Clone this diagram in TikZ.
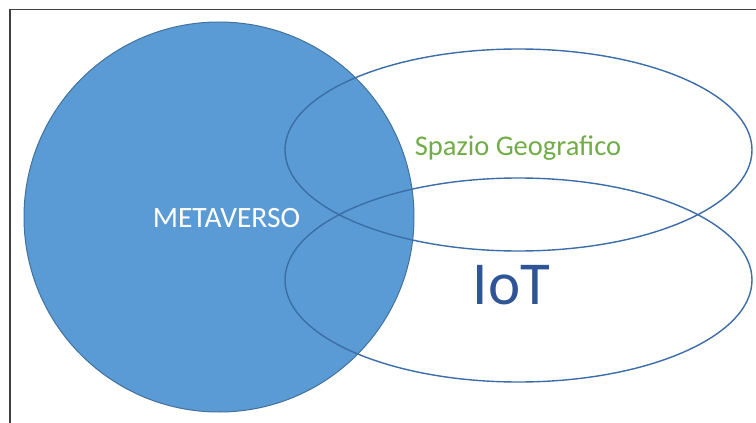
\documentclass[tikz,border=0pt]{standalone}
\usepackage{fontspec}
\setmainfont{Carlito}
\usetikzlibrary{shapes.geometric}
\definecolor{cfill}{HTML}{5B9BD5}
\definecolor{cline}{HTML}{41719C}
\definecolor{eline}{HTML}{3B6DA8}
\definecolor{geo}{HTML}{70AD47}
\definecolor{iot}{HTML}{2F5597}
\begin{document}
\begin{tikzpicture}[x=1pt,y=-1pt,
  frameline/.style={draw=black!75,line width=1.6pt},
  circ/.style={fill=cfill,draw=cline,line width=1pt},
  ell/.style={draw=eline,line width=1.4pt}]
\useasboundingbox (0,0) rectangle (756,423);
\fill[white] (0,0) rectangle (756,423);
\draw[frameline] (10,423) -- (10,9.5) -- (756,9.5);
\node[circ,circle,minimum size=390pt,inner sep=0pt] (meta) at (219,217) {};
\node[ell,ellipse,minimum width=467pt,minimum height=202pt,inner sep=0pt] (geoE) at (518.5,150) {};
\node[ell,ellipse,minimum width=467pt,minimum height=204pt,inner sep=0pt] (iotE) at (518.5,280) {};
\node[text=white,font=\fontsize{29.5}{31}\selectfont] (metaT) at (226.5,218) {METAVERSO};
\node[text=geo,font=\fontsize{28.5}{30}\selectfont] (geoT) at (518,148) {Spazio Geografico};
\node[text=iot,font=\fontsize{61}{63}\selectfont] (iotT) at (511.5,285) {IoT};
\end{tikzpicture}
\end{document}
